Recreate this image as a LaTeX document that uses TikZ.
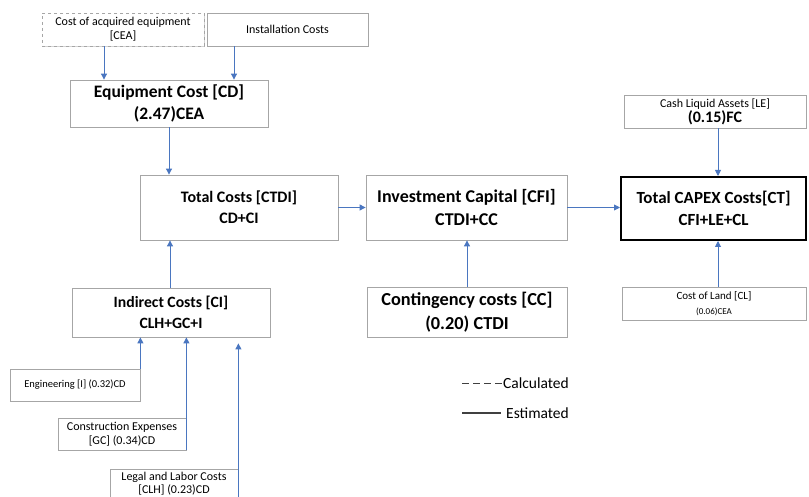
\documentclass[tikz,border=0pt]{standalone}
\usepackage{fontspec}
\setmainfont{Carlito}
\usetikzlibrary{arrows.meta,shadows}
\definecolor{arrblue}{HTML}{4A76C0}
\definecolor{boxgray}{HTML}{A6A6A6}
\newcommand{\fsz}[1]{\fontsize{#1}{\dimexpr #1pt*13/10\relax}\selectfont}
\tikzset{
  box/.style={draw=boxgray, line width=0.8pt, fill=white, align=center,
    inner sep=1pt,
    drop shadow={shadow xshift=1pt, shadow yshift=-1pt, opacity=0.35, fill=gray}},
  smallbox/.style={box},
  bigbox/.style={box, font=\bfseries},
  arr/.style={draw=arrblue, line width=0.9pt, -{Triangle[length=6pt,width=6pt]}},
  legendtext/.style={font=\fsz{15.5}, inner sep=0pt, anchor=west}
}
\begin{document}
\begin{tikzpicture}[x=1pt,y=-1pt]
\useasboundingbox (0,0) rectangle (809,497);

% inputs to the equipment cost
\node[smallbox, dashed, font=\fontsize{12}{14}\selectfont, minimum width=162pt, minimum height=33pt] (cea) at (123,29.5)
  {Cost of acquired equipment\\{[CEA]}};
\node[smallbox, font=\fsz{12}, minimum width=161pt, minimum height=33pt] (inst) at (287.5,29.5)
  {Installation Costs};

% main chain
\node[bigbox, font=\bfseries\fsz{17.5}, minimum width=198pt, minimum height=47pt] (cd) at (169,103.5)
  {Equipment Cost [CD]\\(2.47)CEA};
\node[bigbox, font=\bfseries\fsz{16}, minimum width=198pt, minimum height=65pt] (ctdi) at (239,207.5)
  {Total Costs [CTDI]\\CD+CI};
\node[bigbox, font=\bfseries\fsz{18}, minimum width=201pt, minimum height=65pt] (cfi) at (466.5,207.5)
  {Investment Capital [CFI]\\CTDI+CC};
\node[bigbox, font=\bfseries\fsz{17}, draw=black, line width=2pt, minimum width=185pt, minimum height=63pt] (ct) at (713.5,208.5)
  {Total CAPEX Costs[CT]\\CFI+LE+CL};

% capex inputs
\node[smallbox, font=\fontsize{12}{15}\selectfont, minimum width=182pt, minimum height=33pt] (le) at (715,111.5)
  {Cash Liquid Assets [LE]\\{\bfseries\fontsize{16}{16}\selectfont (0.15)FC}};
\node[smallbox, font=\fsz{11}, minimum width=184pt, minimum height=33pt] (cl) at (714,303.5)
  {Cost of Land [CL]\\{\fsz{9}(0.06)CEA}};

% indirect costs and contingency
\node[bigbox, font=\bfseries\fsz{15.7}, minimum width=198pt, minimum height=49pt] (ci) at (171,312.5)
  {Indirect Costs [CI]\\CLH+GC+I};
\node[bigbox, font=\bfseries\fsz{18.3}, minimum width=200pt, minimum height=50pt] (cc) at (467,312)
  {Contingency costs [CC]\\(0.20) CTDI};

% indirect cost components
\node[smallbox, font=\fsz{10.5}, minimum width=130pt, minimum height=32pt] (eng) at (75,385)
  {Engineering [I] (0.32)CD};
\node[smallbox, font=\fontsize{12}{14}\selectfont, minimum width=128pt, minimum height=32pt] (gc) at (122,434)
  {Construction Expenses\\{[GC]} (0.34)CD};
\node[smallbox, font=\fontsize{12}{13}\selectfont, minimum width=128pt, minimum height=28pt] (clh) at (174,483.5)
  {Legal and Labor Costs\\{[CLH]} (0.23)CD};

% connectors
\draw[arr] ([xshift=-19pt]cea.south) -- ([xshift=-19pt]cea.south |- cd.north);
\draw[arr] ([xshift=-53.5pt]inst.south) -- ([xshift=-53.5pt]inst.south |- cd.north);
\draw[arr] (cd.south) -- (cd.south |- ctdi.north);
\draw[arr] (ctdi.east) -- (cfi.west);
\draw[arr] (cfi.east) -- (cfi.east -| ct.west);
\draw[arr] ([xshift=3pt]le.south) -- ([xshift=3pt]le.south |- ct.north);
\draw[arr] ([xshift=4pt]cl.north) -- ([xshift=4pt]cl.north |- ct.south);
\draw[arr] ([xshift=-1pt]ci.north) -- ([xshift=-1pt]ci.north |- ctdi.south);
\draw[arr] (cc.north) -- (cc.north |- cfi.south);
\draw[arr] (eng.north east) -- (eng.north east |- ci.south);
\draw[arr] (gc.south east) -- (gc.south east |- ci.south);
\draw[arr] ([yshift=-6pt]clh.south east) -- ([yshift=-6pt]clh.south east |- ci.south);

% legend
\node[legendtext] (calc) at (503,383) {Calculated};
\node[legendtext] (est) at (506,413) {Estimated};
\coordinate (calcstart) at (462,383);
\coordinate (eststart) at (462,413);
\draw[line width=1pt, draw=black!75, dash pattern=on 7pt off 4pt] (calcstart) -- ([xshift=-1pt]calc.west);
\draw[line width=1.3pt, draw=black!75] (eststart) -- ([xshift=-5pt]est.west);
\end{tikzpicture}
\end{document}
